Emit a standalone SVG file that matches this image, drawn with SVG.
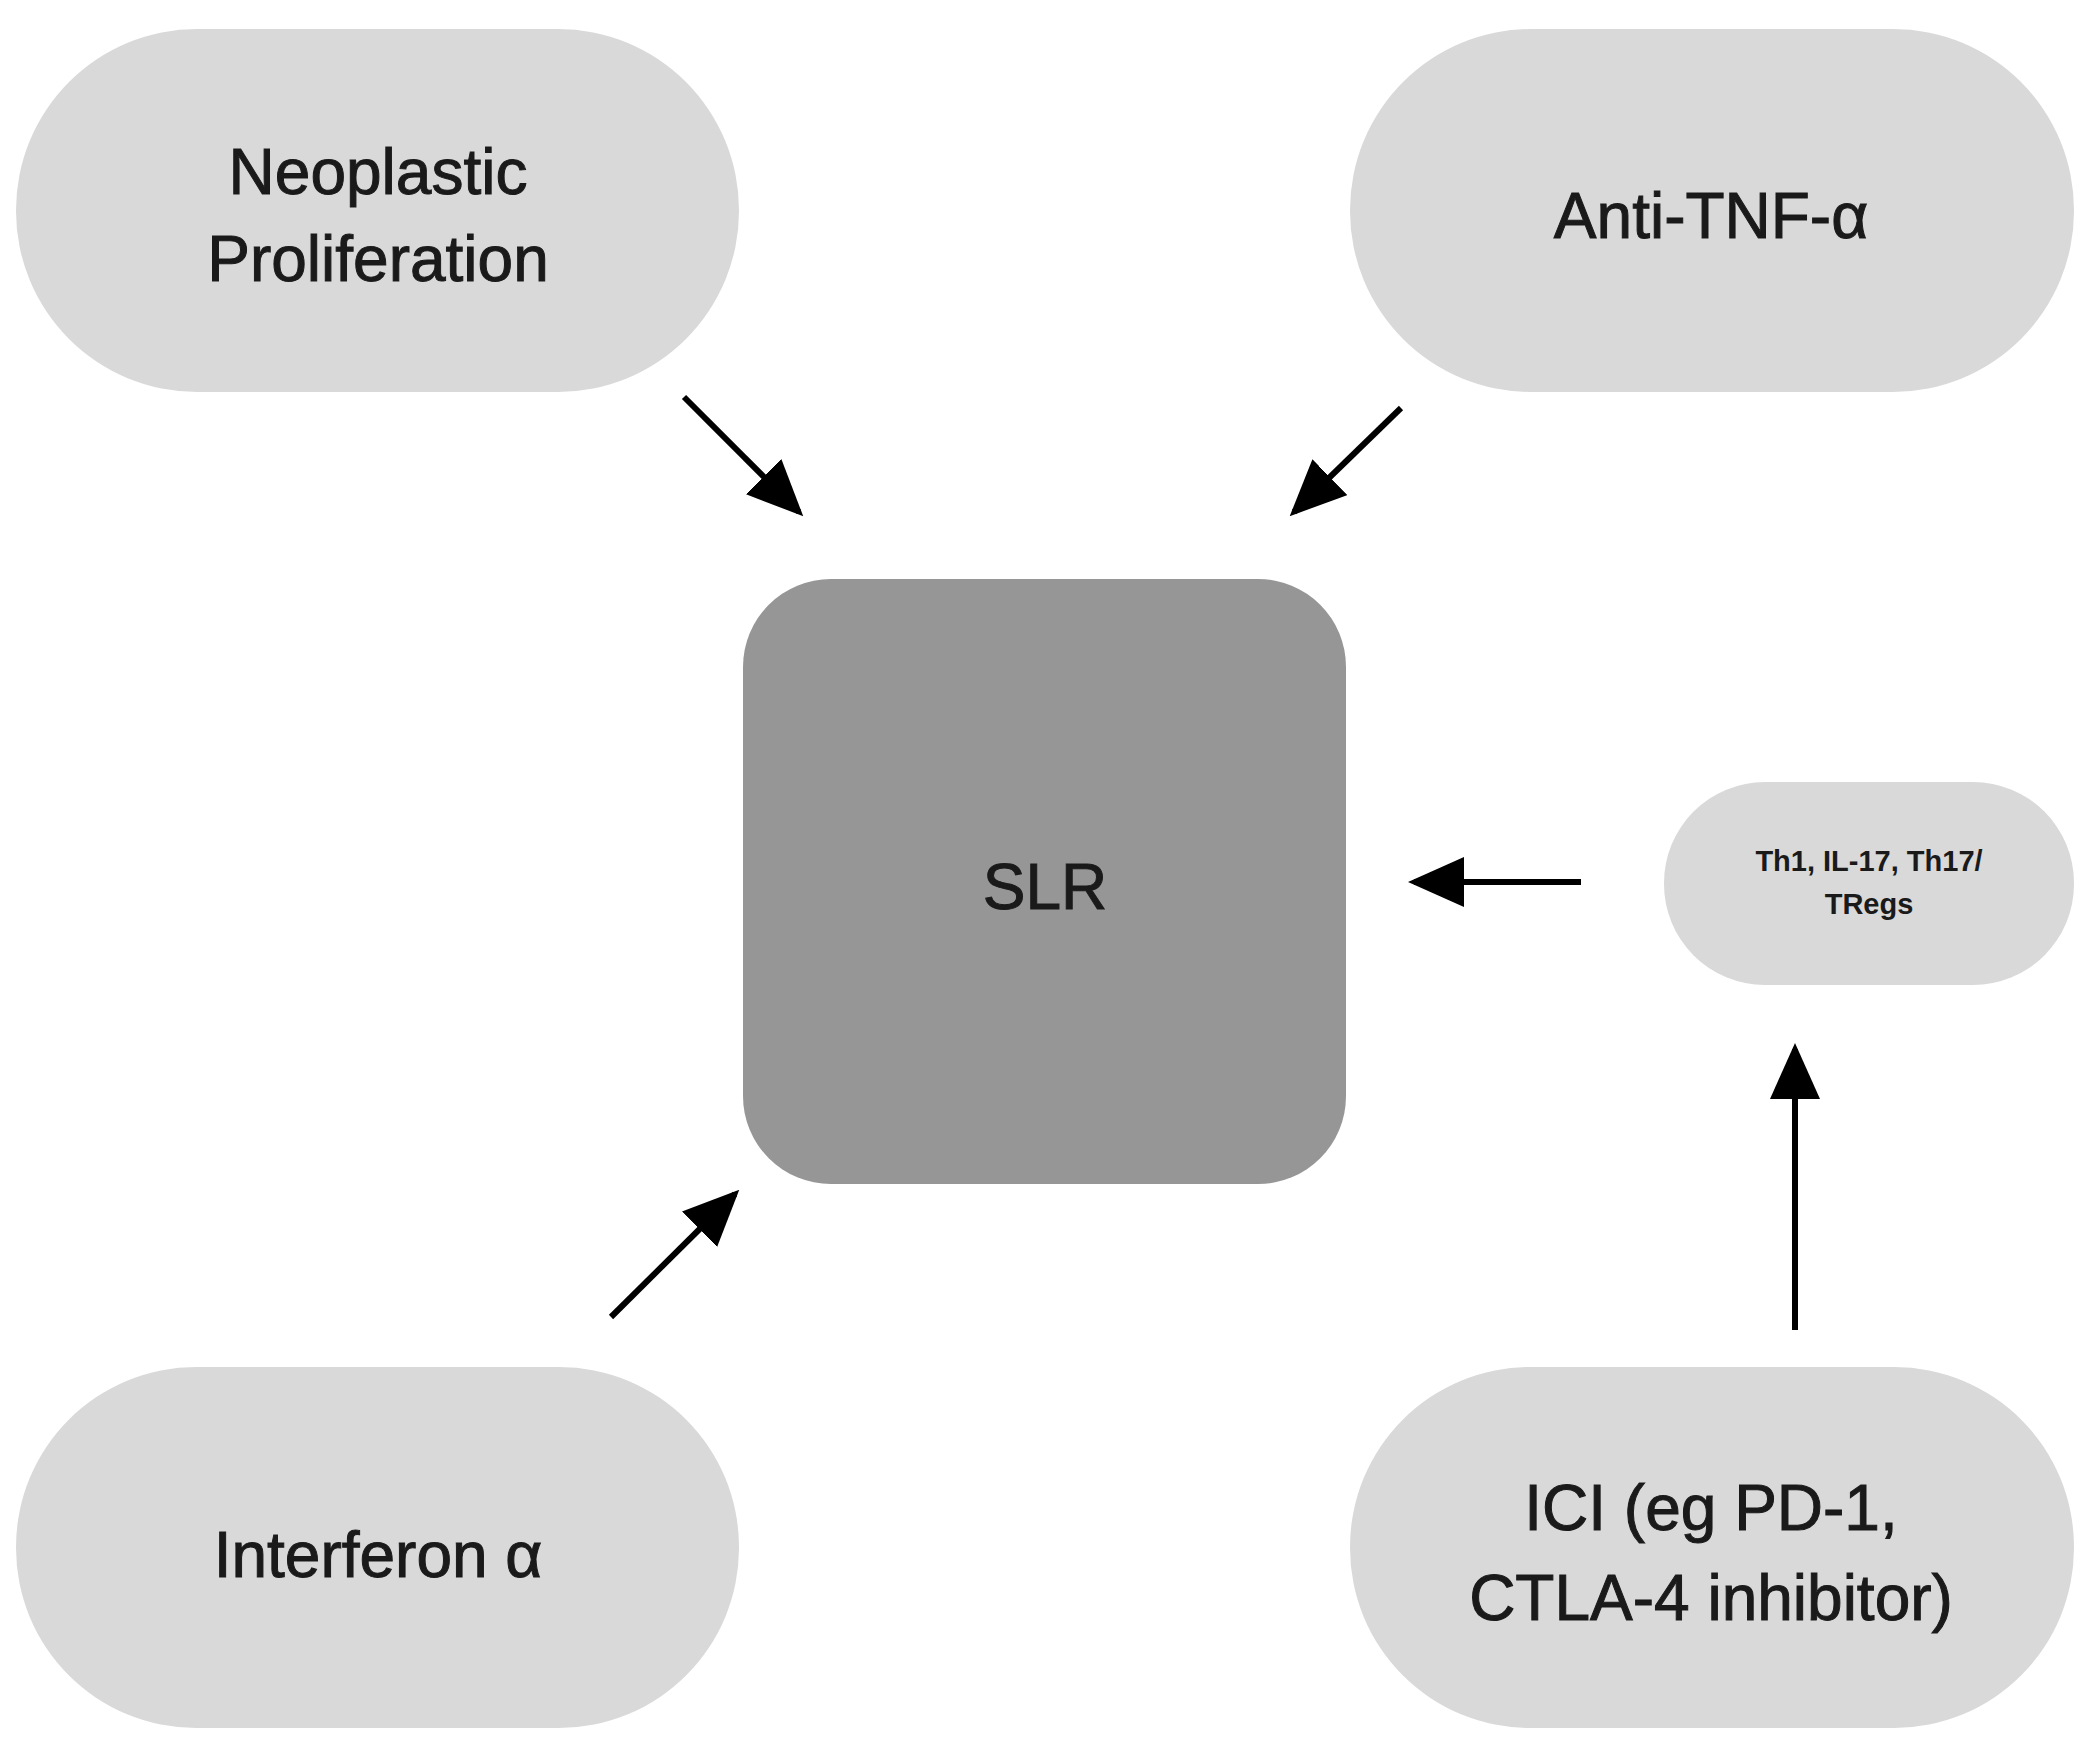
<svg xmlns="http://www.w3.org/2000/svg" width="2089" height="1753" viewBox="0 0 2089 1753">
<style>
.pill{fill:#d9d9d9}
.t{font-family:"Liberation Sans",Arial,sans-serif;fill:#1a1a1a;text-anchor:middle;font-size:64px;stroke:#1a1a1a;stroke-width:1}
.s{font-size:29px;font-weight:bold;stroke:none}
.c{stroke:#000;stroke-width:6;fill:none;marker-end:url(#ah)}
</style>
<defs><marker id="ah" markerUnits="userSpaceOnUse" markerWidth="56" markerHeight="50" refX="50" refY="25" orient="auto"><path d="M0,0 L56,25 L0,50 Z" fill="#000"/></marker></defs>
<rect width="2089" height="1753" fill="#fff"/>
<g id="neoplastic"><rect class="pill" x="16" y="29" width="723" height="363" rx="181"/><text class="t" x="378" y="194">Neoplastic</text><text class="t" x="378" y="281">Proliferation</text></g>
<g id="antitnf"><rect class="pill" x="1350" y="29" width="724" height="363" rx="181"/><text class="t" x="1711" y="238">Anti-TNF-α</text></g>
<g id="interferon"><rect class="pill" x="16" y="1367" width="723" height="361" rx="180"/><text class="t" x="378" y="1577">Interferon α</text></g>
<g id="ici"><rect class="pill" x="1350" y="1367" width="724" height="361" rx="180"/><text class="t" x="1711" y="1530">ICI (eg PD-1,</text><text class="t" x="1711" y="1620">CTLA-4 inhibitor)</text></g>
<g id="slr"><rect x="743" y="579" width="603" height="605" rx="88" fill="#969696"/><text class="t" x="1045" y="909">SLR</text></g>
<g id="th1"><rect class="pill" x="1664" y="782" width="410" height="203" rx="101"/><text class="t s" x="1869" y="871">Th1, IL-17, Th17/</text><text class="t s" x="1869" y="914">TRegs</text></g>
<g id="connectors">
<line class="c" x1="684" y1="397" x2="799" y2="512"/>
<line class="c" x1="1401" y1="408" x2="1294" y2="512"/>
<line class="c" x1="1581" y1="882" x2="1414" y2="882"/>
<line class="c" x1="611" y1="1317" x2="735" y2="1194"/>
<line class="c" x1="1795" y1="1330" x2="1795" y2="1049"/>
</g>
</svg>
